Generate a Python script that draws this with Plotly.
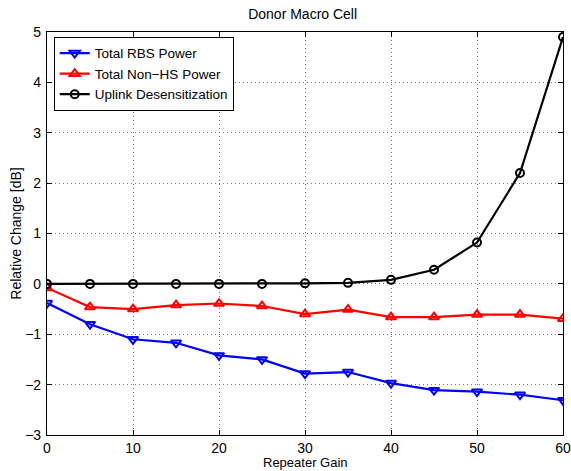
import plotly.graph_objects as go

gain = [0, 5, 10, 15, 20, 25, 30, 35, 40, 45, 50, 55, 60]
rbs_power = [-0.38, -0.80, -1.10, -1.17, -1.42, -1.50, -1.78, -1.75, -1.97, -2.11, -2.14, -2.20, -2.31]
nonhs_power = [-0.08, -0.46, -0.50, -0.42, -0.39, -0.44, -0.60, -0.51, -0.66, -0.66, -0.61, -0.61, -0.69]
uplink_desens = [0.0, 0.0, 0.0, 0.0, 0.0, 0.0, 0.01, 0.02, 0.08, 0.28, 0.82, 2.20, 4.90]

x_ticks = [0, 10, 20, 30, 40, 50, 60]
y_ticks = [-3, -2, -1, 0, 1, 2, 3, 4, 5]

font = "Liberation Sans, Arial, Helvetica, sans-serif"

fig = go.Figure()
fig.add_trace(go.Scatter(x=gain, y=rbs_power, mode="lines+markers", name="Total RBS Power",
                         line=dict(color="#0000ff", width=2.2),
                         marker=dict(symbol="triangle-down-open", size=9, color="#0000ff",
                                     line=dict(width=2, color="#0000ff"))))
fig.add_trace(go.Scatter(x=gain, y=nonhs_power, mode="lines+markers", name="Total Non\u2212HS Power",
                         line=dict(color="#ff0000", width=2.2),
                         marker=dict(symbol="triangle-up-open", size=9, color="#ff0000",
                                     line=dict(width=2, color="#ff0000"))))
fig.add_trace(go.Scatter(x=gain, y=uplink_desens, mode="lines+markers", name="Uplink Desensitization",
                         line=dict(color="#000000", width=2.2),
                         marker=dict(symbol="circle-open", size=8, color="#000000",
                                     line=dict(width=2, color="#000000"))))

axis_common = dict(
    showline=True, linecolor="black", linewidth=1.2, mirror="allticks",
    ticks="inside", ticklen=5, tickcolor="black",
    showgrid=True, gridcolor="#777777", griddash="1px,3px", gridwidth=1,
    zeroline=False, tickfont=dict(size=14, color="black", family=font),
    automargin=False,
)

fig.update_xaxes(range=[0, 60], tickvals=x_ticks, ticktext=[str(v) for v in x_ticks],
                 ticklabelstandoff=0, **axis_common)
fig.update_yaxes(range=[-3, 5], tickvals=y_ticks, ticktext=[str(v).replace("-", "\u2212") for v in y_ticks],
                 ticklabelstandoff=2,
                 title=dict(text="Relative Change [dB]", font=dict(size=14, color="black", family=font), standoff=0),
                 **axis_common)

fig.add_annotation(text="Repeater Gain", xref="paper", yref="paper", x=0.5, y=-0.0893,
                   xanchor="center", yanchor="bottom", showarrow=False, borderpad=0,
                   font=dict(size=13, color="black", family=font))

fig.update_layout(
    width=571, height=471,
    margin=dict(l=47, r=8, t=32, b=36),
    paper_bgcolor="white", plot_bgcolor="white",
    title=dict(text="Donor Macro Cell", x=0.53, xanchor="center", y=0.97, yanchor="middle",
               font=dict(size=14, color="black", family=font)),
    font=dict(family=font, size=13, color="black"),
    showlegend=True,
    legend=dict(x=0.013, y=0.988, xanchor="left", yanchor="top",
                bordercolor="black", borderwidth=1, bgcolor="white",
                font=dict(size=13.5, color="black", family=font),
                tracegroupgap=0, itemwidth=30),
)

fig.write_html("out.html")
